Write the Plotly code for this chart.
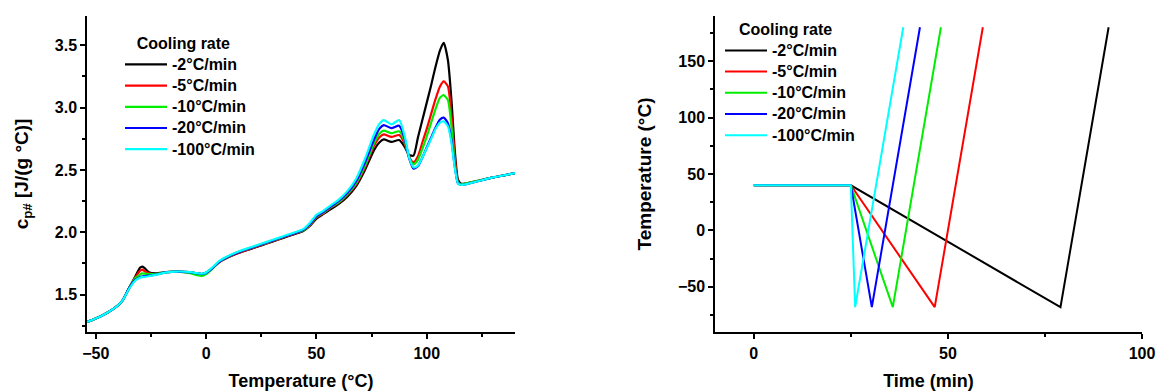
import plotly.graph_objects as go

# ---------------- Data: left panel (specific heat vs temperature) ----------------
temp_c = [-54, -48, -42, -38, -35, -32, -30, -29, -28, -26,
          -23, -18, -13, -8, -4, -2, 0, 3, 6, 10,
          15, 20, 25, 30, 35, 40, 44, 47, 50, 53,
          56, 60, 64, 68, 72, 76, 78.5, 80.5, 84, 87.5,
          90, 92, 94, 96, 98, 100, 102, 104, 106, 107.7,
          109.6, 111.2, 112.7, 114.2, 115.7, 120, 130, 140]

cp_2 = [1.28, 1.325, 1.385, 1.45, 1.55, 1.65, 1.715, 1.725, 1.715, 1.68,
        1.67, 1.68, 1.685, 1.68, 1.67, 1.665, 1.675, 1.715, 1.76, 1.80,
        1.835, 1.865, 1.895, 1.925, 1.955, 1.985, 2.01, 2.05, 2.11, 2.145,
        2.18, 2.225, 2.285, 2.37, 2.50, 2.655, 2.72, 2.745, 2.725, 2.74,
        2.685, 2.62, 2.615, 2.76, 2.90, 3.04, 3.18, 3.33, 3.46, 3.52,
        3.38, 3.06, 2.66, 2.42, 2.39, 2.40, 2.44, 2.475]

cp_5 = [1.28, 1.325, 1.385, 1.45, 1.55, 1.64, 1.69, 1.70, 1.69, 1.67,
        1.665, 1.68, 1.685, 1.68, 1.67, 1.665, 1.675, 1.715, 1.762, 1.802,
        1.838, 1.868, 1.898, 1.928, 1.958, 1.988, 2.015, 2.055, 2.12, 2.15,
        2.19, 2.235, 2.30, 2.385, 2.52, 2.69, 2.76, 2.785, 2.765, 2.78,
        2.71, 2.605, 2.56, 2.61, 2.72, 2.83, 2.95, 3.07, 3.17, 3.21,
        3.17, 2.93, 2.61, 2.40, 2.385, 2.40, 2.44, 2.475]

cp_10 = [1.28, 1.325, 1.385, 1.45, 1.55, 1.635, 1.66, 1.67, 1.668, 1.665,
         1.665, 1.68, 1.685, 1.675, 1.655, 1.65, 1.665, 1.71, 1.765, 1.805,
         1.845, 1.873, 1.902, 1.932, 1.962, 1.992, 2.015, 2.06, 2.125, 2.155,
         2.195, 2.24, 2.305, 2.395, 2.535, 2.71, 2.79, 2.815, 2.795, 2.81,
         2.73, 2.60, 2.545, 2.58, 2.67, 2.77, 2.88, 2.99, 3.08, 3.10,
         3.06, 2.85, 2.555, 2.395, 2.385, 2.40, 2.44, 2.475]

cp_20 = [1.28, 1.325, 1.385, 1.45, 1.55, 1.62, 1.64, 1.645, 1.648, 1.652,
         1.66, 1.68, 1.685, 1.68, 1.67, 1.665, 1.675, 1.715, 1.765, 1.805,
         1.843, 1.873, 1.903, 1.933, 1.963, 1.993, 2.02, 2.065, 2.13, 2.16,
         2.20, 2.25, 2.315, 2.41, 2.56, 2.74, 2.83, 2.86, 2.835, 2.855,
         2.75, 2.595, 2.51, 2.53, 2.60, 2.68, 2.76, 2.84, 2.905, 2.92,
         2.875, 2.74, 2.53, 2.39, 2.38, 2.395, 2.44, 2.475]

cp_100 = [1.28, 1.325, 1.385, 1.45, 1.545, 1.615, 1.635, 1.64, 1.642, 1.648,
          1.658, 1.678, 1.685, 1.682, 1.672, 1.668, 1.678, 1.72, 1.77, 1.81,
          1.848, 1.878, 1.908, 1.938, 1.968, 1.998, 2.025, 2.075, 2.14, 2.17,
          2.21, 2.26, 2.33, 2.43, 2.59, 2.78, 2.87, 2.90, 2.865, 2.90,
          2.77, 2.60, 2.52, 2.535, 2.60, 2.675, 2.75, 2.83, 2.88, 2.89,
          2.85, 2.72, 2.52, 2.39, 2.38, 2.395, 2.44, 2.475]

# ---------------- Data: right panel (temperature program vs time) ----------------
prog_temp = [40, 40, -68, 180]
time_2 = [0, 25, 79.0, 91.4]
time_5 = [0, 25, 46.6, 59.0]
time_10 = [0, 25, 35.8, 48.2]
time_20 = [0, 25, 30.4, 42.8]
time_100 = [0, 25, 26.1, 38.5]

rate_labels = ["-2°C/min", "-5°C/min", "-10°C/min", "-20°C/min", "-100°C/min"]
colors = ["#000000", "#FF0000", "#00EE00", "#0000FF", "#00FFFF"]

W, H = 1156, 392
ML, MR, MT, MB = 87, 14, 16, 60
PW, PH = W - ML - MR, H - MT - MB

FAM = "Arial, Liberation Sans, sans-serif"
tick_font = dict(family=FAM, size=16, color="black", weight="bold")
legend_font = dict(family=FAM, size=14, color="black", weight="bold")
title_font = dict(family=FAM, size=18, color="black", weight="bold")
ytitle_font = dict(family=FAM, size=19, color="black", weight="bold")


def legend_name(s):
    return "<span style='font-size:16px'>" + s + "</span>"


fig = go.Figure()

for lab, ys, col in zip(rate_labels, [cp_2, cp_5, cp_10, cp_20, cp_100], colors):
    fig.add_trace(go.Scatter(x=temp_c, y=ys, mode="lines", name=legend_name(lab),
                             line=dict(color=col, width=2.2, shape="spline", smoothing=0.6),
                             xaxis="x", yaxis="y", legend="legend"))

for lab, ts, col in zip(rate_labels, [time_2, time_5, time_10, time_20, time_100], colors):
    fig.add_trace(go.Scatter(x=ts, y=prog_temp, mode="lines", name=legend_name(lab),
                             line=dict(color=col, width=2),
                             xaxis="x2", yaxis="y2", legend="legend2"))


def axis(**kw):
    d = dict(showline=True, linecolor="black", linewidth=1.5, ticks="outside", ticklen=5,
             tickwidth=1.5, tickcolor="black", showgrid=False, zeroline=False,
             tickfont=tick_font, mirror=False, tickmode="linear", automargin=False)
    d.update(kw)
    return d


minor_x = dict(ticks="outside", ticklen=3, tickwidth=1.5, tickcolor="black", dtick=25, tick0=0)
NB = "\u00a0"

fig.update_layout(
    width=W, height=H, autosize=False,
    margin=dict(l=ML, r=MR, t=MT, b=MB, pad=0),
    paper_bgcolor="white", plot_bgcolor="white",
    xaxis=axis(domain=[0, (515 - ML) / PW], range=[-54, 140], tick0=0, dtick=50, anchor="y",
               ticklabelstandoff=1, minor=minor_x,
               title=dict(text="Temperature (°C)", font=title_font, standoff=13)),
    yaxis=axis(domain=[0, 1], range=[1.2, 3.735], tick0=0, dtick=0.5, tickformat=".1f", anchor="x",
               minor=dict(ticks="outside", ticklen=3, tickwidth=1.5, tickcolor="black", dtick=0.25, tick0=0),
               title=dict(text="c<sub>p#</sub> [J/(g °C)]", font=ytitle_font, standoff=21)),
    xaxis2=axis(domain=[(715 - ML) / PW, 1], range=[-10, 100], tick0=0, dtick=50, anchor="y2",
                ticklabelstandoff=1, minor=minor_x,
                title=dict(text="Time (min)", font=title_font, standoff=13)),
    yaxis2=axis(domain=[0, 1], range=[-90, 190], tick0=0, dtick=50, anchor="x2",
                minor=dict(ticks="outside", ticklen=3, tickwidth=1.5, tickcolor="black", dtick=25, tick0=0),
                title=dict(text="Temperature (°C)", font=ytitle_font, standoff=21)),
    legend=dict(x=(120 - ML) / PW, y=1 - (28 - MT) / PH, xanchor="left", yanchor="top",
                bgcolor="rgba(0,0,0,0)", borderwidth=0, font=legend_font, itemwidth=42,
                title=dict(text="Cooling rate" + NB * 3, font=tick_font, side="top center"),
                tracegroupgap=0),
    legend2=dict(x=(720 - ML) / PW, y=1 - (14 - MT) / PH, xanchor="left", yanchor="top",
                 bgcolor="rgba(0,0,0,0)", borderwidth=0, font=legend_font, itemwidth=42,
                 title=dict(text="Cooling rate" + NB * 2, font=tick_font, side="top center"),
                 tracegroupgap=0),
    showlegend=True,
)

fig.write_html("out.html")
